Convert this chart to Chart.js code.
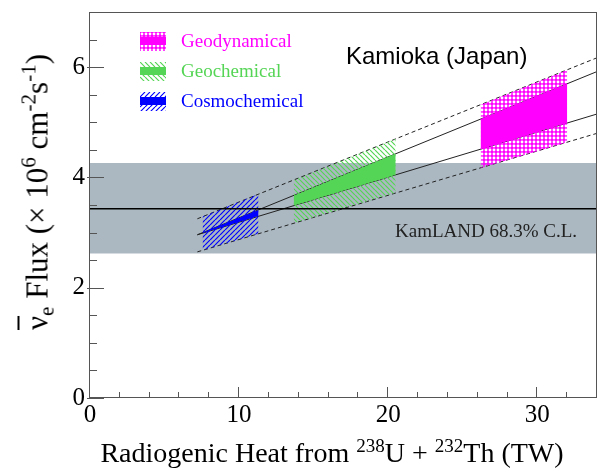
<!DOCTYPE html>
<html>
<head>
<meta charset="utf-8">
<script src="https://cdn.jsdelivr.net/npm/chart.js@4.4.1/dist/chart.umd.min.js"></script>
<style>
    body { margin: 0; background: #fff; }
    #wrap { position: relative; width: 599px; height: 470px; overflow: hidden; }
    #chart { position: absolute; left: 0; top: 0; }
    .serif { font-family: 'Liberation Serif', 'Times New Roman', serif; }
    .label { position: absolute; white-space: nowrap; line-height: 1; }
    sup, sub { font-size: 0.68em; line-height: 0; vertical-align: baseline; position: relative; }
    sup { top: -0.55em; }
    sub { top: 0.3em; }
    .nubar { text-decoration: overline; text-decoration-thickness: 1.5px; }
    #xTitle { left: 332px; top: 439px; font-size: 28px; transform: translateX(-50%); }
    #yTitle { left: 37px; top: 192px; font-size: 31px; transform: translate(-50%, -50%) rotate(-90deg); }
    #site { left: 346px; top: 44px; font-size: 24px; font-family: 'Liberation Sans', Arial, sans-serif; color: #000; }
    #kamland { left: 395px; top: 221px; font-size: 19px; color: #222; }
    .legend { position: absolute; left: 140px; height: 19px; }
    .legend canvas { position: absolute; left: 0; top: 0; }
    .legend span { position: absolute; left: 41px; top: -1px; font-size: 19px; line-height: 19px; white-space: nowrap; }
</style>
</head>
<body>
<div id="wrap">
    <canvas id="chart" width="599" height="470"></canvas>
    <div id="xTitle" class="label serif">Radiogenic Heat from <sup>238</sup>U + <sup>232</sup>Th (TW)</div>
    <div id="yTitle" class="label serif"><span class="nubar">ν</span><sub>e</sub> Flux (× 10<sup>6</sup> cm<sup>-2</sup>s<sup>-1</sup>)</div>
    <div id="site" class="label">Kamioka (Japan)</div>
    <div id="kamland" class="label serif">KamLAND 68.3% C.L.</div>
    <div id="legend"></div>
</div>
<script>
// Axis ticks
const xTickValues = [0, 10, 20, 30];
const yTickValues = [0, 2, 4, 6];

// KamLAND measurement band
const kamlandHeat = [0, 34];
const kamlandFlux = [3.43, 3.43];
const kamlandHigh = [4.26, 4.26];
const kamlandLow = [2.62, 2.62];

// Model lines
const modelHeat = [7.2, 34];
const upperDashedFlux = [3.25, 6.17];
const upperSolidFlux = [2.96, 5.92];
const lowerSolidFlux = [2.96, 5.15];
const lowerDashedFlux = [2.65, 4.80];

// Cosmochemical
const cosmoHeat = [7.55, 11.3];
const cosmoRangeHigh = [3.29, 3.70];
const cosmoRangeLow = [2.68, 2.98];
const cosmoBandHigh = [3.00, 3.41];
const cosmoBandLow = [2.99, 3.30];

// Geochemical
const geochemHeat = [13.66, 20.5];
const geochemRangeHigh = [3.95, 4.70];
const geochemRangeLow = [3.17, 3.72];
const geochemBandHigh = [3.67, 4.43];
const geochemBandLow = [3.49, 4.05];

// Geodynamical
const geodynHeat = [26.2, 32.0];
const geodynRangeHigh = [5.32, 5.95];
const geodynRangeLow = [4.17, 4.64];
const geodynBandHigh = [5.06, 5.70];
const geodynBandLow = [4.51, 4.99];

const MAGENTA = '#ff00ff';
const GREEN = '#55d555';
const BLUE = '#0000ff';
const BAND_GRAY = '#abb8c1';
const SERIF = "'Liberation Serif', 'Times New Roman', serif";

// Hatch patterns
function makePattern(kind, color) {
    const c = document.createElement('canvas');
    const ctx = c.getContext('2d');
    if (kind === 'cross') {
        c.width = c.height = 4;
        ctx.fillStyle = color;
        ctx.fillRect(0, 0, 4, 4);
        ctx.globalCompositeOperation = 'destination-out';
        ctx.beginPath();
        ctx.arc(2, 2, 1.45, 0, Math.PI * 2);
        ctx.fill();
    } else {
        const n = 5;
        c.width = c.height = n;
        ctx.strokeStyle = color;
        ctx.lineWidth = 1.2;
        ctx.beginPath();
        [-n, 0, n].forEach(off => {
            if (kind === 'back') {
                ctx.moveTo(off, 0);
                ctx.lineTo(off + n, n);
            } else {
                ctx.moveTo(off, n);
                ctx.lineTo(off + n, 0);
            }
        });
        ctx.stroke();
    }
    return ctx.createPattern(c, 'repeat');
}

const geodynPattern = makePattern('cross', MAGENTA);
const geochemPattern = makePattern('back', GREEN);
const cosmoPattern = makePattern('slash', BLUE);

function seg(xs, ys, extra) {
    return Object.assign({
        data: xs.map((x, i) => ({ x: x, y: ys[i] })),
        pointRadius: 0,
        borderWidth: 1,
        borderColor: 'rgba(0,0,0,0)',
        fill: false
    }, extra);
}

// First dataset is drawn on top
const datasets = [
    seg(kamlandHeat, kamlandFlux, { borderColor: '#000', borderWidth: 1.5 }),

    seg(geodynHeat, geodynBandHigh, { fill: '+1', backgroundColor: MAGENTA }),
    seg(geodynHeat, geodynBandLow),
    seg(geodynHeat, geodynRangeHigh, { fill: '+1', backgroundColor: geodynPattern }),
    seg(geodynHeat, geodynRangeLow),

    seg(geochemHeat, geochemBandHigh, { fill: '+1', backgroundColor: GREEN }),
    seg(geochemHeat, geochemBandLow),
    seg(geochemHeat, geochemRangeHigh, { fill: '+1', backgroundColor: geochemPattern }),
    seg(geochemHeat, geochemRangeLow),

    seg(cosmoHeat, cosmoBandHigh, { fill: '+1', backgroundColor: BLUE }),
    seg(cosmoHeat, cosmoBandLow),
    seg(cosmoHeat, cosmoRangeHigh, { fill: '+1', backgroundColor: cosmoPattern }),
    seg(cosmoHeat, cosmoRangeLow),

    seg(modelHeat, upperDashedFlux, { borderColor: '#222', borderDash: [4, 3] }),
    seg(modelHeat, upperSolidFlux, { borderColor: '#222' }),
    seg(modelHeat, lowerSolidFlux, { borderColor: '#222' }),
    seg(modelHeat, lowerDashedFlux, { borderColor: '#222', borderDash: [4, 3] }),

    seg(kamlandHeat, kamlandHigh, { fill: '+1', backgroundColor: BAND_GRAY }),
    seg(kamlandHeat, kamlandLow)
];

// Frame and inner tick marks
const frameTicks = {
    id: 'frameTicks',
    afterDraw(chart) {
        const { ctx, chartArea: a, scales } = chart;
        ctx.save();
        ctx.strokeStyle = '#555';
        ctx.lineWidth = 1;
        ctx.strokeRect(Math.round(a.left) - 0.5, Math.round(a.top) + 0.5,
            Math.round(a.right - a.left), Math.round(a.bottom - a.top) - 1);
        ctx.beginPath();
        for (let v = 0; v <= 34; v += 2) {
            const px = Math.round(scales.x.getPixelForValue(v)) - 0.5;
            const len = v % 10 === 0 ? 11 : 6;
            ctx.moveTo(px, a.bottom);
            ctx.lineTo(px, a.bottom - len);
        }
        for (let v = 0; v <= 7; v += 0.5) {
            const py = Math.round(scales.y.getPixelForValue(v)) + 0.5;
            const major = v % 2 === 0;
            ctx.moveTo(a.left - (major ? 3 : 0), py);
            ctx.lineTo(a.left + (major ? 14 : 7), py);
        }
        ctx.stroke();
        ctx.restore();
    }
};

new Chart(document.getElementById('chart'), {
    type: 'line',
    data: { datasets: datasets },
    options: {
        responsive: false,
        animation: false,
        events: [],
        layout: { padding: { top: 12, right: 2, left: 0, bottom: 0 } },
        plugins: {
            legend: { display: false },
            tooltip: { enabled: false }
        },
        scales: {
            x: {
                type: 'linear',
                min: 0,
                max: 34,
                grid: { display: false, drawTicks: false },
                border: { display: false },
                afterBuildTicks: (s) => { s.ticks = xTickValues.map(v => ({ value: v })); },
                afterFit: (s) => {
                    s.height = 72;
                    s.paddingLeft = 0;
                    s.paddingRight = 0;
                },
                ticks: {
                    font: { family: SERIF, size: 25 },
                    color: '#000',
                    padding: 2,
                    maxRotation: 0,
                    autoSkip: false
                }
            },
            y: {
                type: 'linear',
                min: 0,
                max: 7,
                grid: { display: false, drawTicks: false },
                border: { display: false },
                afterBuildTicks: (s) => { s.ticks = yTickValues.map(v => ({ value: v })); },
                afterFit: (s) => {
                    s.width = 90;
                    s.paddingTop = 0;
                    s.paddingBottom = 0;
                },
                ticks: {
                    font: { family: SERIF, size: 25 },
                    color: '#000',
                    padding: 5,
                    autoSkip: false
                }
            }
        }
    },
    plugins: [frameTicks]
});

// Legend in the top-left corner of the plot
const legendItems = [
    { label: 'Geodynamical', color: MAGENTA, pattern: geodynPattern, top: 32 },
    { label: 'Geochemical', color: GREEN, pattern: geochemPattern, top: 62 },
    { label: 'Cosmochemical', color: BLUE, pattern: cosmoPattern, top: 92 }
];

const legendBox = document.getElementById('legend');
legendItems.forEach(item => {
    const row = document.createElement('div');
    row.className = 'legend';
    row.style.top = item.top + 'px';
    const sw = document.createElement('canvas');
    sw.width = 26;
    sw.height = 19;
    const sctx = sw.getContext('2d');
    sctx.fillStyle = item.pattern;
    sctx.fillRect(0, 0, 26, 19);
    sctx.fillStyle = item.color;
    sctx.fillRect(0, 5, 26, 8);
    const text = document.createElement('span');
    text.className = 'serif';
    text.style.color = item.color;
    text.textContent = item.label;
    row.appendChild(sw);
    row.appendChild(text);
    legendBox.appendChild(row);
});
</script>
</body>
</html>
